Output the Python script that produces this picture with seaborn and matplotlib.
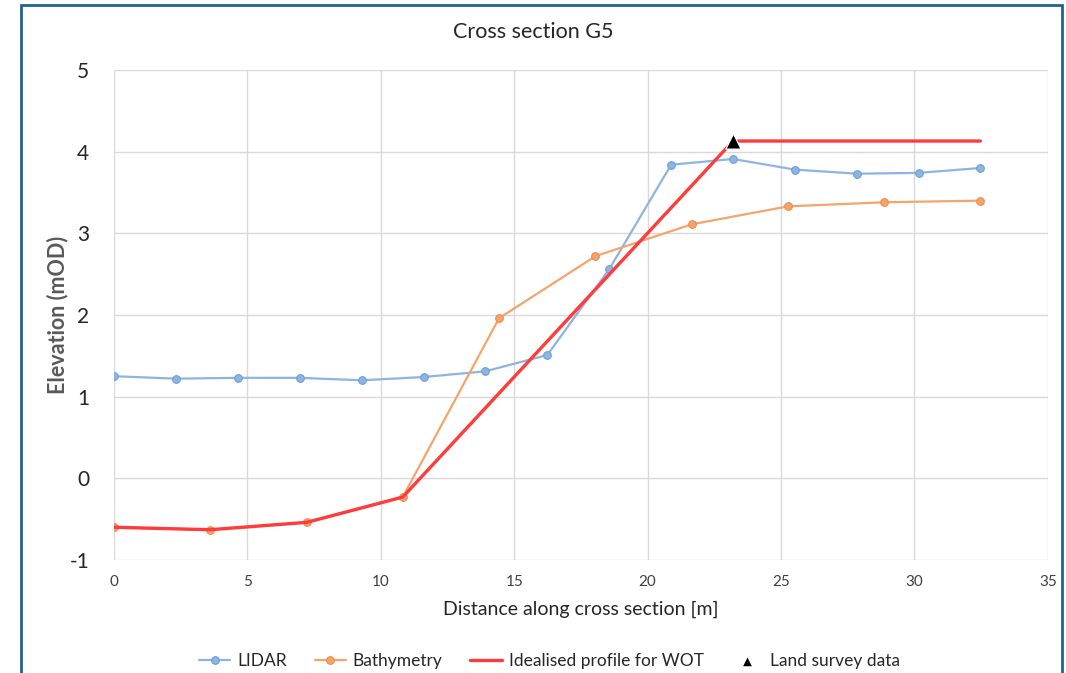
import numpy as np
import pandas as pd
import matplotlib
matplotlib.use("Agg")
import matplotlib.pyplot as plt
import seaborn as sns
from matplotlib.patches import Rectangle

# Data
lidar_x = [0, 2.32, 4.64, 6.96, 9.28, 11.6, 13.92, 16.24, 18.56, 20.88, 23.2, 25.52, 27.84, 30.16, 32.47]
lidar_y = [1.25, 1.22, 1.23, 1.23, 1.20, 1.24, 1.31, 1.51, 2.56, 3.84, 3.91, 3.78, 3.73, 3.74, 3.80]

bathy_x = [0, 3.6, 7.22, 10.82, 14.43, 18.04, 21.65, 25.26, 28.87, 32.47]
bathy_y = [-0.6, -0.63, -0.54, -0.23, 1.96, 2.72, 3.11, 3.33, 3.38, 3.40]

ideal_x = [0, 3.6, 7.22, 10.82, 23.2, 32.47]
ideal_y = [-0.6, -0.63, -0.54, -0.23, 4.13, 4.13]

survey_x = [23.2]
survey_y = [4.13]

lidar_col = "#8db4e2"
bathy_col = "#f4a46c"
ideal_col = "#ff3b3b"

sns.set_style("white")
plt.rcParams["font.family"] = ["Lato", "DejaVu Sans"]
plt.rcParams["axes.unicode_minus"] = False

fig = plt.figure(figsize=(10.66, 6.73), dpi=100)
ax = fig.add_axes([0.107, 0.168, 0.876, 0.728])

sns.lineplot(x=lidar_x, y=lidar_y, ax=ax, sort=False, color=lidar_col, lw=1.6,
             marker="o", markersize=5.5, markeredgecolor="#6f9fd8", markeredgewidth=0.8,
             label="LIDAR")
sns.lineplot(x=bathy_x, y=bathy_y, ax=ax, sort=False, color=bathy_col, lw=1.6,
             marker="o", markersize=5.5, markeredgecolor="#ee8a4c", markeredgewidth=0.8,
             label="Bathymetry")
sns.lineplot(x=ideal_x, y=ideal_y, ax=ax, sort=False, color=ideal_col, lw=2.4,
             label="Idealised profile for WOT")
sns.scatterplot(x=survey_x, y=survey_y, ax=ax, color="black", marker="^", s=120,
                zorder=5, label="Land survey data")

ax.set_xlim(0, 35)
ax.set_ylim(-1, 5)
ax.set_xticks(range(0, 36, 5))
ax.set_yticks(range(-1, 6))
ax.grid(True, color="#d9d9d9", lw=1)
ax.set_axisbelow(True)
for s in ax.spines.values():
    s.set_visible(False)
ax.tick_params(axis="x", labelsize=11, length=0, pad=11, colors="#404040")
ax.tick_params(axis="y", labelsize=15, length=0, pad=18, colors="#262626")

ax.set_xlabel("Distance along cross section [m]", fontsize=14, color="#262626", labelpad=8)
ax.set_ylabel("Elevation (mOD)", fontsize=15.5, color="#595959", fontweight="bold", labelpad=1)
fig.text(0.5, 0.953, "Cross section G5", ha="center", va="center", fontsize=15.5, color="#262626")

leg = ax.legend(loc="center", bbox_to_anchor=(0.466, -0.206), ncol=4, frameon=False,
                fontsize=12.5, handlelength=1.8, columnspacing=1.6, handletextpad=0.4,
                labelcolor="#262626")
leg.legend_handles[3].set_sizes([60])

# outer frame of the chart area
fig.patches.append(Rectangle((0.0197, -0.05), 0.9765, 1.0426, transform=fig.transFigure,
                             fill=False, edgecolor="#1f6391", lw=2))

fig.savefig("out.png", dpi=100)
